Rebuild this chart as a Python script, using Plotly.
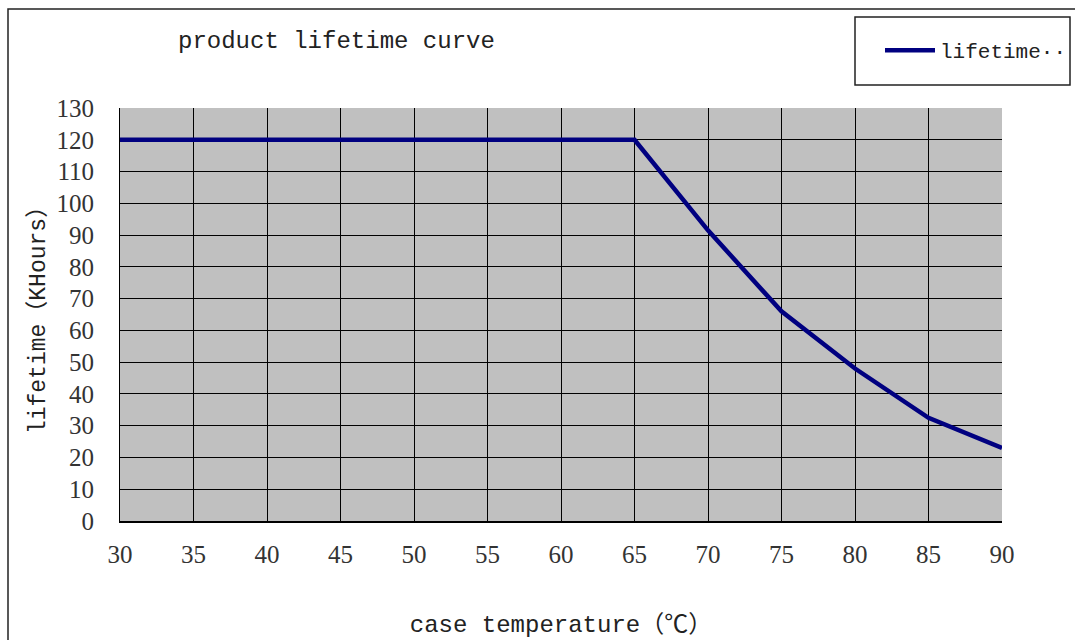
import plotly.graph_objects as go

# ---- data ----
temperature = [30, 35, 40, 45, 50, 55, 60, 65, 70, 75, 80, 85, 90]
lifetime_khours = [120, 120, 120, 120, 120, 120, 120, 120, 91.5, 66, 48, 32.5, 23]
x_ticks = [30, 35, 40, 45, 50, 55, 60, 65, 70, 75, 80, 85, 90]
y_ticks = [0, 10, 20, 30, 40, 50, 60, 70, 80, 90, 100, 110, 120, 130]
series_name = "lifetime··"
chart_title = "product lifetime curve"
x_title = "case temperature（℃）"
y_title = "lifetime（KHours）"

# ---- layout geometry ----
W, H = 1075, 640
ML, MR, MT, MB = 120, 73, 108, 119
PW, PH = W - ML - MR, H - MT - MB


def px_x(p):
    return (p - ML) / PW


def px_y(p):
    return (H - MB - p) / PH


MONO = "Liberation Mono, Noto Sans CJK SC, monospace"
SERIF = "Liberation Serif, Times New Roman, serif"

fig = go.Figure()
fig.add_trace(go.Scatter(
    x=temperature, y=lifetime_khours, mode="lines", name=series_name,
    line=dict(color="#000080", width=4.5, shape="linear"),
    showlegend=True,
))

fig.update_layout(
    width=W, height=H,
    margin=dict(l=ML, r=MR, t=MT, b=MB, autoexpand=False),
    paper_bgcolor="white", plot_bgcolor="#c0c0c0",
    title=dict(text=chart_title, x=178 / W, xanchor="left", xref="container",
               y=1 - 40 / H, yanchor="middle", yref="container",
               font=dict(family=MONO, size=24, color="#222")),
    legend=dict(x=px_x(880), y=px_y(30), xanchor="left", yanchor="top",
                bgcolor="rgba(0,0,0,0)", borderwidth=0, itemwidth=50,
                font=dict(family=MONO, size=21, color="#222")),
    showlegend=True,
    xaxis=dict(range=[30, 90], tickvals=x_ticks, ticktext=[str(v) for v in x_ticks],
               showgrid=True, gridcolor="black", gridwidth=1.3,
               showline=True, linecolor="black", linewidth=1.5,
               zeroline=False, ticks="", ticklabelstandoff=10,
               tickfont=dict(family=SERIF, size=25, color="#333"),
               title=dict(text=x_title, standoff=48,
                          font=dict(family=MONO, size=24, color="#222"))),
    yaxis=dict(range=[0, 130], tickvals=y_ticks, ticktext=[str(v) for v in y_ticks],
               showgrid=True, gridcolor="black", gridwidth=1.3,
               showline=True, linecolor="black", linewidth=1.0,
               zeroline=False, ticks="", ticklabelstandoff=20,
               tickfont=dict(family=SERIF, size=25, color="#333"),
               title=dict(text=y_title, standoff=4,
                          font=dict(family=MONO, size=23, color="#222"))),
)

# outer border
fig.add_shape(type="rect", xref="paper", yref="paper",
              x0=px_x(8), x1=px_x(1090), y0=px_y(660), y1=px_y(9),
              line=dict(color="#222", width=1.5), fillcolor="rgba(0,0,0,0)", layer="below")
# legend frame
fig.add_shape(type="rect", xref="paper", yref="paper",
              x0=px_x(855), x1=px_x(1070), y0=px_y(85), y1=px_y(17),
              line=dict(color="#222", width=1.5), fillcolor="rgba(0,0,0,0)")

fig.write_html("out.html", config={"displayModeBar": False},
               post_script="document.body.style.margin='0';document.body.style.padding='0';")
